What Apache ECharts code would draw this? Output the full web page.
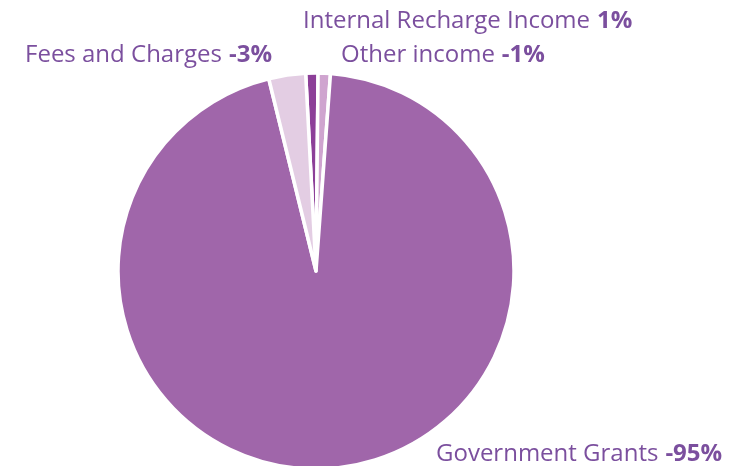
<!DOCTYPE html>
<html>
<head>
<meta charset="utf-8">
<script src="https://cdn.jsdelivr.net/npm/echarts@6/dist/echarts.min.js"></script>
<style>
  html, body { margin: 0; padding: 0; background: #ffffff; }
  #chart { width: 746px; height: 466px; }
</style>
</head>
<body>
<div id="chart"></div>
<script>
// Income sources, in clockwise order from the top of the pie
const categories = ['Internal Recharge Income', 'Other income', 'Government Grants', 'Fees and Charges'];
// Percentages as printed on the labels
const shownPct = [1, -1, -95, -3];
const sliceColors = ['#8c3f98', '#cfa4cf', '#a066aa', '#e3cde3'];

// Label anchor points (px) and alignment for each slice
const labelPlace = [
  { x: 303, y: 21, align: 'left' },
  { x: 341, y: 55, align: 'left' },
  { x: 436, y: 454, align: 'left' },
  { x: 272, y: 55, align: 'right' }
];

const chart = echarts.init(document.getElementById('chart'), null, { renderer: 'canvas' });

const seriesData = categories.map((name, i) => ({
  name: name,
  value: Math.abs(shownPct[i]),
  pct: shownPct[i],
  itemStyle: { color: sliceColors[i] }
}));

chart.setOption({
  animation: false,
  series: [{
    type: 'pie',
    center: [316, 271],
    radius: [0, 198],
    startAngle: 93,
    clockwise: true,
    avoidLabelOverlap: false,
    itemStyle: { borderColor: '#ffffff', borderWidth: 3.5 },
    labelLine: { show: false },
    label: {
      show: true,
      position: 'outside',
      formatter: function (p) {
        return '{n|' + p.name + '}{v|' + p.data.pct + '%}';
      },
      rich: {
        n: { fontFamily: 'Open Sans', fontSize: 24, color: '#7b4f9e' },
        v: { fontFamily: 'Open Sans', fontSize: 24, fontWeight: 'bold', color: '#7b4f9e', padding: [0, 0, 0, 7] }
      }
    },
    labelLayout: function (params) {
      const pl = labelPlace[params.dataIndex];
      return { x: pl.x, y: pl.y, align: pl.align, verticalAlign: 'middle', hideOverlap: false };
    },
    data: seriesData
  }]
});
</script>
</body>
</html>
